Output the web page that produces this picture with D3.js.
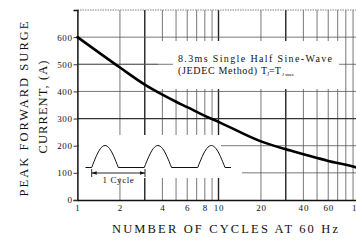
<!DOCTYPE html>
<html>
<head>
<meta charset="utf-8">
<script src="https://cdn.jsdelivr.net/npm/d3@7"></script>
<style>
  html, body { margin: 0; padding: 0; background: #fff; }
  svg { display: block; }
  text { font-family: "Liberation Serif", "DejaVu Serif", serif; fill: #111; }
</style>
</head>
<body>
<svg id="chart" width="356" height="240"></svg>
<script>
// ---- data ----
const cycles  = [1, 2, 3, 4, 5, 6, 8, 10, 20, 30, 40, 50, 60, 80, 100];
const current = [600, 488, 425, 388, 362, 342, 310, 288, 216, 187, 169, 155, 144, 130, 117];
const xTickLabels = [1, 2, 4, 6, 8, 10, 20, 40, 60, 100];
const xGrid = [1, 2, 3, 4, 5, 6, 7, 8, 9, 10, 20, 30, 40, 50, 60, 70, 80, 90, 100];
const xGridBold = [3, 10, 30];
const yTicks = [0, 100, 200, 300, 400, 500, 600];
const yGrid = [100, 200, 300, 400, 500, 600];
const noteLine1 = "8.3ms Single Half Sine-Wave";
const xTitle = "NUMBER OF CYCLES AT 60 Hz";
const yTitle1 = "PEAK FORWARD SURGE";
const yTitle2 = "CURRENT, (A)";

// ---- scales ----
const svg = d3.select("#chart");
const x = d3.scaleLog().domain([1, 100]).range([77.5, 359.5]);
const y = d3.scaleLinear().domain([0, 700]).range([200, 10]);

// ---- grid ----
const grid = svg.append("g");
grid.selectAll("line.gx").data(xGrid).join("line")
  .attr("x1", d => x(d)).attr("x2", d => x(d))
  .attr("y1", y(700)).attr("y2", y(0))
  .attr("stroke", d => xGridBold.includes(d) ? "#222" : "#555")
  .attr("stroke-width", d => xGridBold.includes(d) ? 1.4 : 0.8);
grid.selectAll("line.gy").data(yGrid).join("line")
  .attr("x1", x(1)).attr("x2", 360)
  .attr("y1", d => y(d)).attr("y2", d => y(d))
  .attr("stroke", d => d === 300 ? "#333" : "#555")
  .attr("stroke-width", d => d === 300 ? 1.2 : 0.8);
// top border (dotted)
grid.append("line")
  .attr("x1", x(1)).attr("x2", 360).attr("y1", y(700)).attr("y2", y(700))
  .attr("stroke", "#777").attr("stroke-width", 0.9).attr("stroke-dasharray", "1.5,1");

// ---- masks for annotation areas ----
svg.append("rect").attr("x", 158).attr("y", 41).attr("width", 181).attr("height", 48).attr("fill", "#fff");
svg.append("line").attr("x1", x(1)).attr("x2", 173).attr("y1", y(500)).attr("y2", y(500))
  .attr("stroke", "#555").attr("stroke-width", 0.8);
svg.append("rect").attr("x", 79).attr("y", 135).attr("width", 142).attr("height", 43).attr("fill", "#fff");
svg.append("rect").attr("x", 221).attr("y", 166).attr("width", 21).attr("height", 12).attr("fill", "#fff");

// ---- axes ----
const yAxis = svg.append("g").attr("transform", `translate(${x(1)},0)`)
  .call(d3.axisLeft(y).tickValues(yTicks).tickSize(4).tickPadding(1));
yAxis.select(".domain").attr("stroke", "#111").attr("stroke-width", 1.3);
yAxis.selectAll(".tick line").attr("stroke", "#333");
yAxis.selectAll("text").style("font-family", "'Liberation Serif', serif").style("font-size", "9px")
  .attr("letter-spacing", "0.6").attr("fill", "#222");

const xAxis = svg.append("g").attr("transform", `translate(0,${y(0)})`)
  .call(d3.axisBottom(x).tickValues(xTickLabels).tickFormat(d3.format("d")).tickSize(0).tickPadding(5));
xAxis.select(".domain").attr("stroke", "#111").attr("stroke-width", 1.5);
xAxis.selectAll("text").style("font-family", "'Liberation Serif', serif").style("font-size", "9px")
  .attr("letter-spacing", "0.8").attr("fill", "#222");

// ---- curve ----
const pts = cycles.map((c, i) => [c, current[i]]);
svg.append("path").datum(pts)
  .attr("fill", "none").attr("stroke", "#000").attr("stroke-width", 2.6)
  .attr("stroke-linecap", "round")
  .attr("d", d3.line().x(d => x(d[0])).y(d => y(d[1])).curve(d3.curveMonotoneX));

// ---- note ----
svg.append("text").attr("x", 178).attr("y", 61.5)
  .attr("textLength", 154).attr("lengthAdjust", "spacing")
  .style("font-size", "10px").text(noteLine1);
const n2 = svg.append("text").attr("y", 74).style("font-size", "10px");
n2.append("tspan").attr("x", 178).attr("textLength", 79).attr("lengthAdjust", "spacing").text("(JEDEC Method)");
n2.append("tspan").attr("x", 261).text("T");
n2.append("tspan").attr("dy", 2).style("font-size", "5.5px").text("J");
n2.append("tspan").attr("dy", -2).attr("x", 269).text("=T");
n2.append("tspan").attr("dy", 2).attr("x", 282).style("font-size", "5px").text("J max");

// ---- inset waveform ----
const inset = svg.append("g");
const base = 167.5, amp = 22;
const humps = [[91.7, 118.3], [144.3, 171.5], [197.7, 225]];
const wave = [[85.5, base]];
humps.forEach((h, k) => {
  for (let i = 0; i <= 24; i++) {
    const t = i / 24;
    wave.push([h[0] + t * (h[1] - h[0]), base - amp * Math.sin(Math.PI * t)]);
  }
  const nextStart = k < humps.length - 1 ? humps[k + 1][0] : 231;
  wave.push([nextStart, base]);
});
inset.append("path").datum(wave)
  .attr("fill", "none").attr("stroke", "#111").attr("stroke-width", 1)
  .attr("d", d3.line());
// 1 cycle dimension
const ay = 173, ax1 = 91.7, ax2 = 145;
inset.append("line").attr("x1", ax1).attr("x2", ax2).attr("y1", ay).attr("y2", ay).attr("stroke", "#111").attr("stroke-width", 0.9);
[ax1, ax2].forEach(xx => inset.append("line").attr("x1", xx).attr("x2", xx).attr("y1", 169).attr("y2", 177).attr("stroke", "#111").attr("stroke-width", 0.9));
inset.append("path").attr("d", `M${ax1},${ay} l5,-1.8 l0,3.6 Z M${ax2},${ay} l-5,-1.8 l0,3.6 Z`).attr("fill", "#111");
inset.append("text").attr("x", 118.5).attr("y", 183).attr("text-anchor", "middle")
  .attr("letter-spacing", "0.6").style("font-size", "9px").text("1 Cycle");

// ---- titles ----
svg.append("text").attr("x", 225).attr("y", 232.5).attr("text-anchor", "middle")
  .attr("textLength", 226).attr("lengthAdjust", "spacing")
  .style("font-size", "12.5px").text(xTitle);
svg.append("text").attr("transform", "translate(28,109) rotate(-90)").attr("text-anchor", "middle")
  .attr("textLength", 175).attr("lengthAdjust", "spacing")
  .style("font-size", "12.5px").text(yTitle1);
svg.append("text").attr("transform", "translate(46.5,107) rotate(-90)").attr("text-anchor", "middle")
  .attr("textLength", 93).attr("lengthAdjust", "spacing")
  .style("font-size", "12.5px").text(yTitle2);
</script>
</body>
</html>
